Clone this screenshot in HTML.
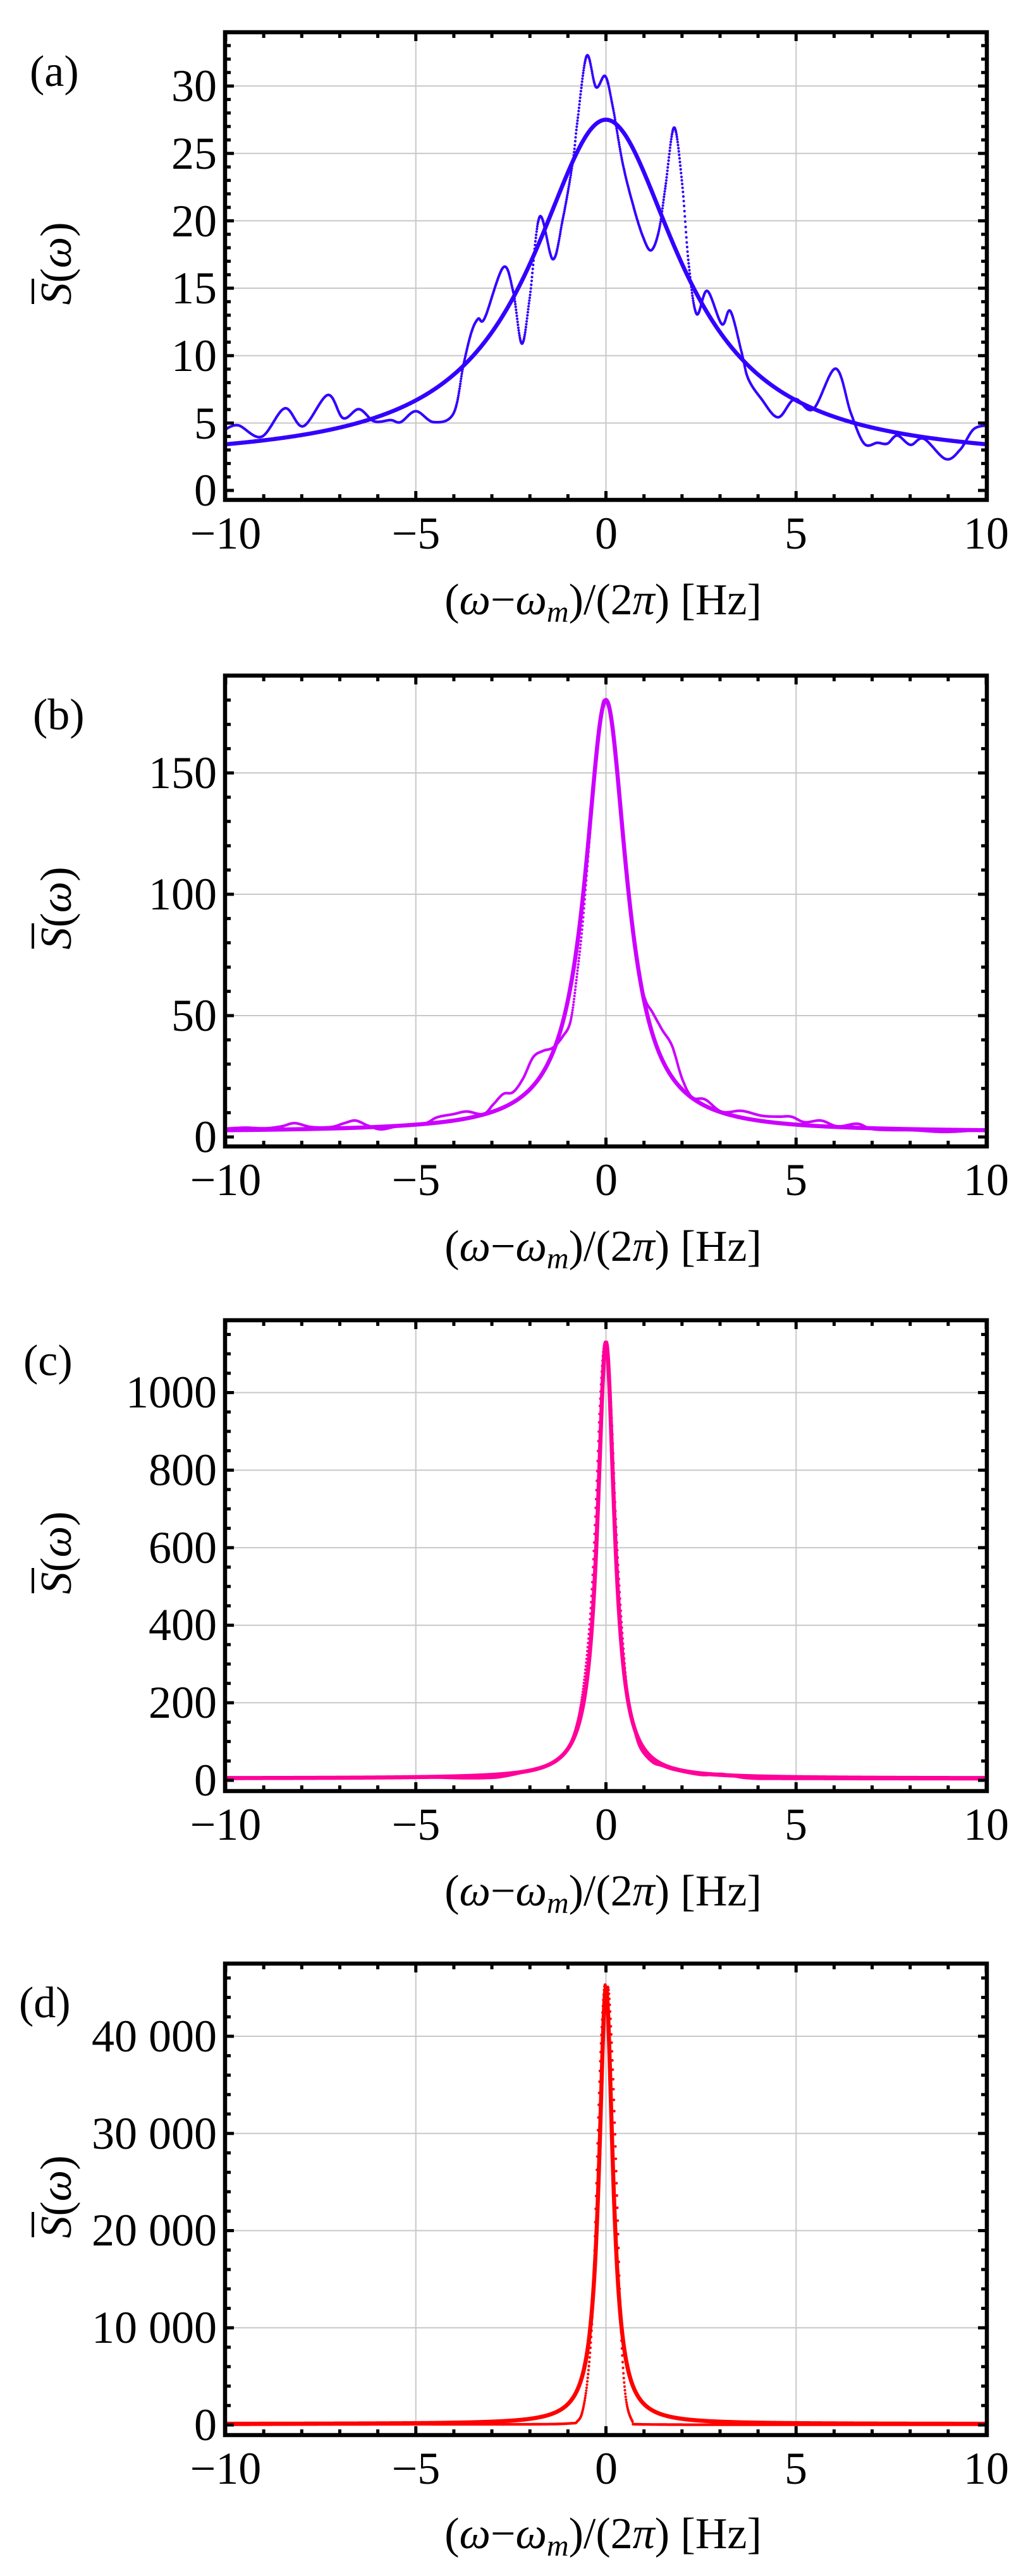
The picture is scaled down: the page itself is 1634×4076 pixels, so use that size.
<!DOCTYPE html>
<html><head><meta charset="utf-8">
<style>
html,body{margin:0;padding:0;background:#fff;}
svg{display:block;}
text{font-family:"Liberation Serif","DejaVu Serif",serif;fill:#000;}
</style></head>
<body>
<svg id="s" xmlns="http://www.w3.org/2000/svg" width="1634" height="4076" viewBox="0 0 1634 4076">
<rect width="1634" height="4076" fill="#fff"/>
<g id="plots"></g>
<g font-size="72">
<!-- panel a y labels -->
<g text-anchor="end">
<text x="343" y="800">0</text><text x="343" y="694">5</text><text x="343" y="587">10</text><text x="343" y="480">15</text><text x="343" y="374">20</text><text x="343" y="267">25</text><text x="343" y="160">30</text>
<text x="343" y="1823">0</text><text x="343" y="1631">50</text><text x="343" y="1439">100</text><text x="343" y="1247">150</text>
<text x="343" y="2841">0</text><text x="343" y="2718">200</text><text x="343" y="2595">400</text><text x="343" y="2473">600</text><text x="343" y="2350">800</text><text x="343" y="2227">1000</text>
<text x="343" y="3861">0</text><text x="343" y="3707">10 000</text><text x="343" y="3553">20 000</text><text x="343" y="3400">30 000</text><text x="343" y="3246">40 000</text>
</g>
<g text-anchor="middle">
<text x="357" y="868">−10</text><text x="658" y="868">−5</text><text x="959" y="868">0</text><text x="1259" y="868">5</text><text x="1560" y="868">10</text>
<text x="357" y="1891">−10</text><text x="658" y="1891">−5</text><text x="959" y="1891">0</text><text x="1259" y="1891">5</text><text x="1560" y="1891">10</text>
<text x="357" y="2911">−10</text><text x="658" y="2911">−5</text><text x="959" y="2911">0</text><text x="1259" y="2911">5</text><text x="1560" y="2911">10</text>
<text x="357" y="3930">−10</text><text x="658" y="3930">−5</text><text x="959" y="3930">0</text><text x="1259" y="3930">5</text><text x="1560" y="3930">10</text>
</g>
</g>
<g font-size="70">
<text x="47" y="136">(a)</text>
<text x="52" y="1154">(b)</text>
<text x="37" y="2176">(c)</text>
<text x="30" y="3192">(d)</text>
<g text-anchor="middle">
<text x="954" y="972">(<tspan font-style="italic">ω</tspan>−<tspan font-style="italic">ω</tspan><tspan font-style="italic" font-size="48" dy="12">m</tspan><tspan dy="-12">)/(2</tspan><tspan font-style="italic">π</tspan>) [Hz]</text>
<text x="954" y="1995">(<tspan font-style="italic">ω</tspan>−<tspan font-style="italic">ω</tspan><tspan font-style="italic" font-size="48" dy="12">m</tspan><tspan dy="-12">)/(2</tspan><tspan font-style="italic">π</tspan>) [Hz]</text>
<text x="954" y="3015">(<tspan font-style="italic">ω</tspan>−<tspan font-style="italic">ω</tspan><tspan font-style="italic" font-size="48" dy="12">m</tspan><tspan dy="-12">)/(2</tspan><tspan font-style="italic">π</tspan>) [Hz]</text>
<text x="954" y="4032">(<tspan font-style="italic">ω</tspan>−<tspan font-style="italic">ω</tspan><tspan font-style="italic" font-size="48" dy="12">m</tspan><tspan dy="-12">)/(2</tspan><tspan font-style="italic">π</tspan>) [Hz]</text>
</g>
<g transform="translate(112,417) rotate(-90)"><text x="0" y="0" text-anchor="middle"><tspan font-style="italic">S</tspan>(<tspan font-style="italic">ω</tspan>)</text><line x1="-64" x2="-24" y1="-60" y2="-60" stroke="#000" stroke-width="4"/></g>
<g transform="translate(112,1437) rotate(-90)"><text x="0" y="0" text-anchor="middle"><tspan font-style="italic">S</tspan>(<tspan font-style="italic">ω</tspan>)</text><line x1="-64" x2="-24" y1="-60" y2="-60" stroke="#000" stroke-width="4"/></g>
<g transform="translate(112,2457) rotate(-90)"><text x="0" y="0" text-anchor="middle"><tspan font-style="italic">S</tspan>(<tspan font-style="italic">ω</tspan>)</text><line x1="-64" x2="-24" y1="-60" y2="-60" stroke="#000" stroke-width="4"/></g>
<g transform="translate(112,3476) rotate(-90)"><text x="0" y="0" text-anchor="middle"><tspan font-style="italic">S</tspan>(<tspan font-style="italic">ω</tspan>)</text><line x1="-64" x2="-24" y1="-60" y2="-60" stroke="#000" stroke-width="4"/></g>
</g>
</svg>
<script>
(function(){
var NS="http://www.w3.org/2000/svg";
var root=document.getElementById("plots");
var defs=document.createElementNS(NS,"defs");root.appendChild(defs);
function el(n,a,p){var e=document.createElementNS(NS,n);for(var k in a)e.setAttribute(k,a[k]);(p||root).appendChild(e);return e;}
var XL=356,XR=1561;
function xp(x){return 958.5+x*60.15;}
var SX=1634/1560;
var panels=[
 {T:51,B:791,y0:776,k:21.33,maj:5,min:1,gmax:30,col:"#3300ff",
  fit:function(x){return 2.1+25.4/(1+x*x/5.5);},
  dmap:function(d){return d*1000/1560;},
  data:[[340,1060],[360,1050],[395,1078],[430,1008],[458,1052],[495,975],[518,1032],[542,1010],[565,1040],[590,1037],[605,1042],[628,1015],[655,1042],[685,1020],[700,900],[712,820],[722,787],[732,785],[760,660],[775,720],[788,848],[800,735],[815,535],[835,640],[850,540],[865,400],[872,300],[886,138],[900,215],[914,188],[925,260],[940,400],[955,500],[970,580],[983,618],[995,570],[1005,460],[1018,315],[1030,450],[1040,650],[1052,775],[1068,718],[1090,800],[1103,768],[1120,870],[1130,935],[1150,985],[1175,1030],[1200,985],[1228,1010],[1262,910],[1285,1020],[1305,1095],[1325,1093],[1340,1095],[1355,1075],[1375,1098],[1395,1083],[1428,1133],[1450,1110],[1470,1060],[1490,1050]]},
 {T:1069,B:1814,y0:1799,k:3.84,maj:50,min:10,gmax:150,col:"#cc00ff",
  fit:function(x){return 2+178/(1+x*x/0.44);},
  dmap:function(d){return 1050+d*800/1560;},
  data:[[340,1435],[370,1432],[400,1434],[425,1428],[445,1418],[470,1430],[500,1430],[520,1418],[537,1410],[555,1425],[575,1437],[600,1428],[640,1420],[660,1400],[685,1390],[705,1382],[730,1390],[745,1360],[760,1328],[775,1322],[790,1280],[805,1215],[820,1195],[835,1185],[850,1150],[862,1100],[872,950],[880,800],[890,550],[900,300],[908,150],[913,112],[920,135],[930,300],[942,560],[955,800],[965,960],[975,1040],[985,1075],[1000,1130],[1015,1180],[1030,1280],[1045,1338],[1065,1345],[1090,1383],[1120,1380],[1150,1395],[1175,1398],[1195,1398],[1215,1415],[1240,1410],[1265,1428],[1295,1420],[1320,1437],[1380,1440],[1430,1445],[1490,1437]]},
 {T:2089,B:2834,y0:2817,k:0.6135,maj:200,min:50,gmax:1000,col:"#ff0099",
  fit:function(x){return 5+1125/(1+x*x/0.073);},
  dmap:function(d){return 2070+d*800/1560;},
  data:[[340,1452],[500,1450],[620,1447],[700,1450],[740,1449],[760,1445],[790,1432],[820,1415],[845,1385],[862,1340],[875,1250],[885,1100],[893,900],[900,600],[906,300],[912,120],[918,140],[924,350],[930,650],[938,950],[948,1200],[958,1300],[968,1360],[985,1400],[1000,1412],[1020,1425],[1060,1440],[1090,1437],[1130,1450],[1200,1452],[1490,1453]]},
 {T:3107,B:3853,y0:3837,k:0.015375,maj:10000,min:2000,gmax:40000,col:"#ff0000",
  fit:function(x){return 100+44900/(1+x*x/0.048);},
  dmap:function(d){return 3000+d*1076/1560;},
  data:[[340,1213],[600,1212],[800,1212],[860,1210],[872,1205],[880,1180],[888,1100],[895,950],[900,700],[906,400],[912,220],[916,212],[920,230],[926,420],[932,700],[938,1000],[945,1150],[955,1205],[965,1212],[1200,1213],[1490,1213]]}
];
panels.forEach(function(p,i){
 var cid="c"+i;
 var cp=el("clipPath",{id:cid},defs);
 el("rect",{x:XL+3,y:p.T+3,width:XR-XL-6,height:p.B-p.T-6},cp);
 // gridlines
 [-5,0,5].forEach(function(x){el("line",{x1:xp(x),x2:xp(x),y1:p.T,y2:p.B,stroke:"#c8c8c8","stroke-width":2});});
 for(var v=p.maj;v<=p.gmax;v+=p.maj){var y=p.y0-v*p.k;el("line",{x1:XL,x2:XR,y1:y,y2:y,stroke:"#c8c8c8","stroke-width":2});}
 var g=el("g",{"clip-path":"url(#"+cid+")"});
 // data dots
 var pts=p.data.map(function(d){return [d[0]*SX,p.dmap(d[1])];});
 var dd="",nx=pts[0][0];
 for(var s=0;s<pts.length-1;s++){
  var P0=pts[Math.max(0,s-1)],P1=pts[s],P2=pts[s+1],P3=pts[Math.min(pts.length-1,s+2)];
  for(var t=0;t<1;t+=0.002){
   var t2=t*t,t3=t2*t;
   var x=0.5*((2*P1[0])+(-P0[0]+P2[0])*t+(2*P0[0]-5*P1[0]+4*P2[0]-P3[0])*t2+(-P0[0]+3*P1[0]-3*P2[0]+P3[0])*t3);
   var y=0.5*((2*P1[1])+(-P0[1]+P2[1])*t+(2*P0[1]-5*P1[1]+4*P2[1]-P3[1])*t2+(-P0[1]+3*P1[1]-3*P2[1]+P3[1])*t3);
   if(x>=nx){dd+="M"+x.toFixed(1)+" "+y.toFixed(1)+"h0.01";nx+=0.6;}
  }
 }
 el("path",{d:dd,stroke:p.col,"stroke-width":4.2,"stroke-linecap":"round",fill:"none"},g);
 // fit
 var fd="";
 for(var px=XL;px<=XR;px+=1){var x=(px-958.5)/60.15;var y=p.y0-p.fit(x)*p.k;fd+=(px==XL?"M":"L")+px+" "+y.toFixed(2);}
 el("path",{d:fd,stroke:p.col,"stroke-width":6.5,fill:"none","stroke-linejoin":"round"},g);
 // frame
 el("rect",{x:XL,y:p.T,width:XR-XL,height:p.B-p.T,fill:"none",stroke:"#000","stroke-width":6.5});
 // x ticks
 var tk="";
 for(var x=-10;x<=10;x++){var X=xp(x),L=(x%5==0)?11:6;tk+="M"+X+" "+(p.B-3)+"v"+(-L)+"M"+X+" "+(p.T+3)+"v"+L;}
 // y ticks
 var top=(p.y0-p.T)/p.k;
 for(var v=0;v<=top;v+=p.min){var Y=p.y0-v*p.k;if(Y<p.T+6)break;var L=(Math.abs(v%p.maj)<1e-9)?11:6;tk+="M"+(XL+3)+" "+Y+"h"+L+"M"+(XR-3)+" "+Y+"h"+(-L);}
 el("path",{d:tk,stroke:"#000","stroke-width":5,fill:"none"});
});
})();
</script>
</body></html>
